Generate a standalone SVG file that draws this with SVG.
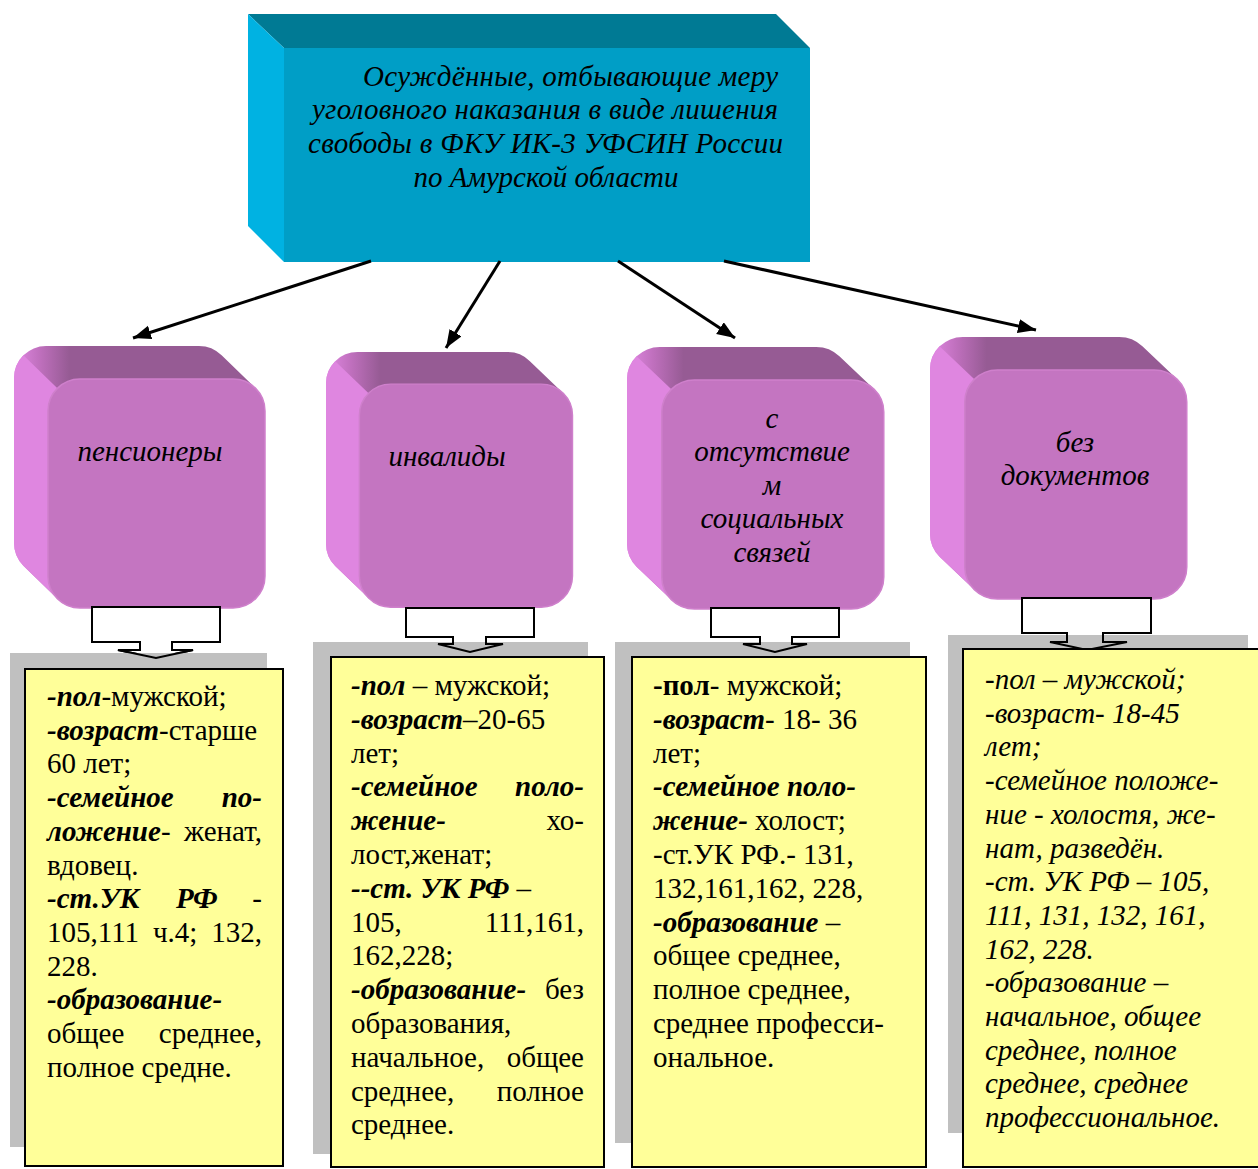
<svg xmlns="http://www.w3.org/2000/svg" xmlns:xlink="http://www.w3.org/1999/xlink" width="1258" height="1169" viewBox="0 0 1258 1169">
<style>
.t{font-family:"Liberation Serif","Times New Roman",serif;font-size:29px;fill:#000}
.i{font-style:italic}
.bi{font-weight:bold;font-style:italic}
.b{font-weight:bold}
.e{text-anchor:end}
.m{text-anchor:middle}
.conn{stroke:#000;stroke-width:3;fill:none;marker-end:url(#ah)}
.shadow{fill:#c0c0c0}
.note{fill:#ffff99;stroke:#000;stroke-width:2}
.barrow{fill:#fff;stroke:#000;stroke-width:2}
.bline{fill:none;stroke:#000;stroke-width:2}
</style>
<defs>
<marker id="ah" markerUnits="userSpaceOnUse" markerWidth="20" markerHeight="16" refX="18" refY="7" orient="auto">
<path d="M0,0 L18,7 L0,14 Z" fill="#000"/>
</marker>
<linearGradient id="hullg" x1="0" y1="0" x2="1" y2="0">
<stop offset="0" stop-color="#e088e2"/>
<stop offset="0.1" stop-color="#c070be"/>
<stop offset="0.22" stop-color="#965b94"/>
<stop offset="1" stop-color="#965b94"/>
</linearGradient>
<g id="pbox">
<path d="M0,32 A32,32 0 0 1 32,0 H185 A32,32 0 0 1 207.63,9.37 L241.63,42.37 A32,32 0 0 1 251,65 V230 A32,32 0 0 1 219,262 H66 A32,32 0 0 1 43.37,252.63 L9.37,219.63 A32,32 0 0 1 0,197 Z" fill="url(#hullg)"/>
<path d="M9.37,9.37 L43.37,42.37 A32,32 0 0 0 34,65 V230 A32,32 0 0 0 43.37,252.63 L9.37,219.63 A32,32 0 0 1 0,197 V32 A32,32 0 0 1 9.37,9.37 Z" fill="#df86e0"/>
<rect x="34" y="33" width="217" height="229" rx="32" fill="#c475c1" stroke="#cf80cc" stroke-width="1.5"/>
</g>
<path id="ba1" d="M92,607 H220 V642 H172 V650 H193 L156,658 L118,650 H140 V642 H92 Z"/>
<path id="ba2" d="M406,608 H534 V637 H486 V644 H503 L470,652 L438,644 H453 V637 H406 Z"/>
<path id="ba3" d="M711,608 H839 V637 H792 V644 H807 L775,652 L743,644 H760 V637 H711 Z"/>
<path id="ba4" d="M1022,598 H1151 V633 H1103 V642 H1127 L1087,650 L1050,642 H1067 V633 H1022 Z"/>
</defs>

<g id="top">
<polygon points="248,14 776,14 810,48 284,48" fill="#007a94"/>
<polygon points="248,14 284,48 284,262 248,226" fill="#00b2e2"/>
<rect x="284" y="48" width="526" height="214" fill="#009ec6"/>
<text class="t i" x="363" y="86" textLength="415">Осуждённые, отбывающие меру</text>
<text class="t i" x="312" y="119" textLength="466">уголовного наказания в виде лишения</text>
<text class="t i" x="308" y="153" textLength="475">свободы в ФКУ ИК-3 УФСИН России</text>
<text class="t i m" x="546" y="187">по Амурской области</text>
</g>

<g id="connectors">
<line class="conn" x1="371" y1="261" x2="133" y2="338"/>
<line class="conn" x1="500" y1="261" x2="446" y2="348"/>
<line class="conn" x1="618" y1="261" x2="735" y2="338"/>
<line class="conn" x1="724" y1="261" x2="1036" y2="330"/>
</g>

<g id="cat1">
<use xlink:href="#pbox" transform="translate(14,346)"/>
<text class="t i m" x="150" y="461">пенсионеры</text>
</g>
<g id="cat2">
<use xlink:href="#pbox" transform="translate(326,352) scale(0.982,0.974)"/>
<text class="t i m" x="447" y="466">инвалиды</text>
</g>
<g id="cat3">
<use xlink:href="#pbox" transform="translate(627,347) scale(1.023,1)"/>
<text class="t i m" x="772" y="428">с</text>
<text class="t i m" x="772" y="461">отсутствие</text>
<text class="t i m" x="772" y="495">м</text>
<text class="t i m" x="772" y="528">социальных</text>
<text class="t i m" x="772" y="562">связей</text>
</g>
<g id="cat4">
<use xlink:href="#pbox" transform="translate(930,337) scale(1.023,1)"/>
<text class="t i m" x="1075" y="452">без</text>
<text class="t i m" x="1075" y="485">документов</text>
</g>

<g id="arrows">
<use xlink:href="#ba1" class="barrow"/>
<use xlink:href="#ba2" class="barrow"/>
<use xlink:href="#ba3" class="barrow"/>
<use xlink:href="#ba4" class="barrow"/>
</g>

<g id="desc1">
<rect class="shadow" x="10" y="653" width="257" height="494"/>
<use xlink:href="#ba1" class="bline"/>
<rect class="note" x="25" y="669" width="258" height="497"/>
<text class="t" x="47" y="706"><tspan class="bi">-пол</tspan>-мужской;</text>
<text class="t" x="47" y="739.7"><tspan class="bi">-возраст</tspan>-старше</text>
<text class="t" x="47" y="773.4">60 лет;</text>
<text class="t bi" x="47" y="807.1">-семейное</text>
<text class="t bi e" x="262" y="807.1">по-</text>
<text class="t" x="47" y="840.8"><tspan class="bi">ложение</tspan>-</text>
<text class="t e" x="262" y="840.8">женат,</text>
<text class="t" x="47" y="874.5">вдовец.</text>
<text class="t bi" x="47" y="908.2">-ст.УК</text>
<text class="t bi" x="176" y="908.2">РФ</text>
<text class="t e" x="262" y="908.2">-</text>
<text class="t" x="47" y="941.9">105,111</text>
<text class="t" x="153" y="941.9">ч.4;</text>
<text class="t e" x="262" y="941.9">132,</text>
<text class="t" x="47" y="975.6">228.</text>
<text class="t bi" x="47" y="1009.3">-образование-</text>
<text class="t" x="47" y="1043">общее</text>
<text class="t e" x="262" y="1043">среднее,</text>
<text class="t" x="47" y="1076.7">полное средне.</text>
</g>

<g id="desc2">
<rect class="shadow" x="313" y="642" width="275" height="512"/>
<use xlink:href="#ba2" class="bline"/>
<rect class="note" x="331" y="657" width="273" height="510"/>
<text class="t" x="351" y="695"><tspan class="bi">-пол</tspan> – мужской;</text>
<text class="t" x="351" y="728.8"><tspan class="bi">-возраст</tspan>–20-65</text>
<text class="t" x="351" y="762.6">лет;</text>
<text class="t bi" x="351" y="796.4">-семейное</text>
<text class="t bi e" x="584" y="796.4">поло-</text>
<text class="t bi" x="351" y="830.2">жение-</text>
<text class="t e" x="584" y="830.2">хо-</text>
<text class="t" x="351" y="864">лост,женат;</text>
<text class="t" x="351" y="897.8"><tspan class="bi">--ст. УК РФ</tspan> –</text>
<text class="t" x="351" y="931.6">105,</text>
<text class="t e" x="584" y="931.6">111,161,</text>
<text class="t" x="351" y="965.4">162,228;</text>
<text class="t bi" x="351" y="999.2">-образование-</text>
<text class="t e" x="584" y="999.2">без</text>
<text class="t" x="351" y="1033">образования,</text>
<text class="t" x="351" y="1066.8">начальное,</text>
<text class="t e" x="584" y="1066.8">общее</text>
<text class="t" x="351" y="1100.6">среднее,</text>
<text class="t e" x="584" y="1100.6">полное</text>
<text class="t" x="351" y="1134.4">среднее.</text>
</g>

<g id="desc3">
<rect class="shadow" x="615" y="642" width="295" height="501"/>
<use xlink:href="#ba3" class="bline"/>
<rect class="note" x="632" y="657" width="294" height="510"/>
<text class="t" x="653" y="695"><tspan class="b">-пол</tspan>- мужской;</text>
<text class="t" x="653" y="728.8"><tspan class="bi">-возраст</tspan>- 18- 36</text>
<text class="t" x="653" y="762.6">лет;</text>
<text class="t bi" x="653" y="796.4">-семейное поло-</text>
<text class="t" x="653" y="830.2"><tspan class="bi">жение-</tspan> холост;</text>
<text class="t" x="653" y="864">-ст.УК РФ.- 131,</text>
<text class="t" x="653" y="897.8">132,161,162, 228,</text>
<text class="t" x="653" y="931.6"><tspan class="bi">-образование</tspan> –</text>
<text class="t" x="653" y="965.4">общее среднее,</text>
<text class="t" x="653" y="999.2">полное среднее,</text>
<text class="t" x="653" y="1033">среднее професси-</text>
<text class="t" x="653" y="1066.8">ональное.</text>
</g>

<g id="desc4">
<rect class="shadow" x="948" y="635" width="300" height="498"/>
<use xlink:href="#ba4" class="bline"/>
<rect class="note" x="963" y="649" width="300" height="518"/>
<text class="t i" x="985" y="689">-пол – мужской;</text>
<text class="t i" x="985" y="722.7">-возраст- 18-45</text>
<text class="t i" x="985" y="756.4">лет;</text>
<text class="t i" x="985" y="790.1">-семейное положе-</text>
<text class="t i" x="985" y="823.8">ние - холостя, же-</text>
<text class="t i" x="985" y="857.5">нат, разведён.</text>
<text class="t i" x="985" y="891.2">-ст. УК РФ – 105,</text>
<text class="t i" x="985" y="924.9">111, 131, 132, 161,</text>
<text class="t i" x="985" y="958.6">162, 228.</text>
<text class="t i" x="985" y="992.3">-образование –</text>
<text class="t i" x="985" y="1026">начальное, общее</text>
<text class="t i" x="985" y="1059.7">среднее, полное</text>
<text class="t i" x="985" y="1093.4">среднее, среднее</text>
<text class="t i" x="985" y="1127.1">профессиональное.</text>
</g>
</svg>
